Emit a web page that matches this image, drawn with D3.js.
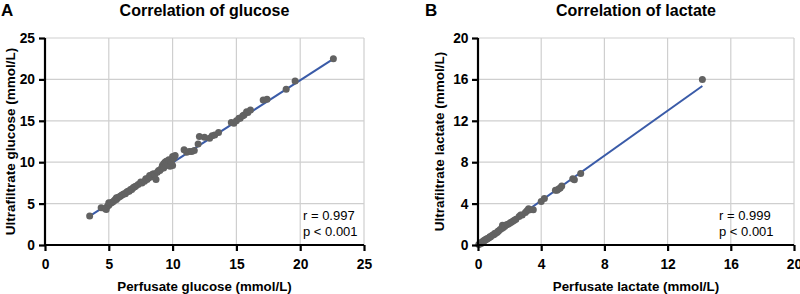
<!DOCTYPE html>
<html><head><meta charset="utf-8">
<script src="https://cdn.jsdelivr.net/npm/d3@7"></script>
<style>body{margin:0;background:#fff}svg{display:block;font-family:"Liberation Sans",Arial,sans-serif}</style>
</head><body><svg id="c" width="800" height="294"></svg>
<script>
// Panel A: glucose (perfusate x, ultrafiltrate y), mmol/L
const glucoseX = [3.5,4.4,4.7,4.8,4.9,5.0,5.0,5.1,5.2,5.3,5.4,5.5,5.6,5.6,5.7,5.8,5.9,6.0,6.1,6.2,6.3,6.4,6.5,6.6,6.7,6.8,6.9,7.0,7.1,7.3,7.5,7.6,7.8,7.9,8.0,8.1,8.2,8.3,8.4,8.5,8.6,8.7,8.8,8.9,9.0,9.1,9.2,9.3,9.3,9.4,9.5,9.5,9.6,9.7,9.8,9.9,10.0,10.0,10.1,10.2,10.9,11.1,11.3,11.5,11.7,12.0,12.1,12.5,12.9,13.1,13.3,13.6,14.6,14.8,15.0,15.2,15.3,15.5,15.6,15.8,15.9,16.1,17.1,17.4,18.9,19.6,22.6];
const glucoseY = [3.5,4.5,4.4,4.3,4.7,4.8,5.1,5.0,5.1,5.2,5.3,5.5,5.5,5.7,5.7,5.8,5.9,6.0,6.1,6.2,6.2,6.4,6.5,6.5,6.7,6.7,6.9,7.0,7.1,7.3,7.6,7.5,7.7,8.0,7.9,8.1,8.4,8.2,8.5,8.6,8.5,7.9,8.8,9.0,9.0,9.2,9.6,9.8,9.3,10.0,10.1,9.6,9.9,10.3,9.5,10.0,10.7,9.6,10.5,10.8,11.5,11.2,11.3,11.3,11.4,12.2,13.1,13.0,12.9,13.2,13.3,13.6,14.8,14.7,15.0,15.3,15.3,15.6,15.7,16.1,16.0,16.3,17.5,17.6,18.8,19.8,22.5];
const glucoseFit = [0.0, 0.995];      // intercept, slope
const glucoseFitRange = [3.5, 22.6];
const glucoseTicks = [0,5,10,15,20,25];
const glucoseStats = ["r = 0.997","p < 0.001"];

// Panel B: lactate
const lactateX = [0.05,0.1,0.15,0.2,0.25,0.3,0.35,0.4,0.45,0.5,0.55,0.6,0.7,0.75,0.8,0.9,1.0,1.05,1.1,1.2,1.25,1.3,1.4,1.5,1.55,1.6,1.7,1.8,1.9,2.0,2.1,2.2,2.3,2.4,2.6,2.7,2.8,3.0,3.1,3.2,3.3,3.5,4.0,4.2,4.9,5.0,5.1,5.2,5.3,6.0,6.1,6.5,14.2];
const lactateY = [0.05,0.1,0.2,0.15,0.3,0.3,0.4,0.4,0.5,0.5,0.6,0.6,0.7,0.8,0.8,0.95,1.0,1.1,1.1,1.2,1.3,1.35,1.5,1.6,1.9,1.7,1.8,1.95,2.0,2.1,2.2,2.3,2.4,2.5,2.75,2.9,2.9,3.15,3.3,3.5,3.4,3.4,4.2,4.5,5.3,5.3,5.4,5.5,5.7,6.4,6.3,6.9,16.0];
const lactateFit = [-0.05, 1.085];
const lactateFitRange = [0.0, 14.2];
const lactateTicks = [0,4,8,12,16,20];
const lactateStats = ["r = 0.999","p < 0.001"];

const svg = d3.select("#c");

function panel(o){
  const g = svg.append("g");
  const x = d3.scaleLinear().domain([0,o.max]).range([o.x0,o.x1]);
  const y = d3.scaleLinear().domain([0,o.max]).range([245,38]);
  // grid
  g.append("g").selectAll("line").data(o.ticks.slice(1)).join("line")
    .attr("x1",d=>x(d)).attr("x2",d=>x(d)).attr("y1",y(0)).attr("y2",y(o.max))
    .attr("stroke","#cfcfcf").attr("stroke-width",1.2);
  g.append("g").selectAll("line").data(o.ticks.slice(1)).join("line")
    .attr("y1",d=>y(d)).attr("y2",d=>y(d)).attr("x1",x(0)).attr("x2",x(o.max))
    .attr("stroke","#cfcfcf").attr("stroke-width",1.2);
  // fit line
  const [b,m] = o.fit;
  g.append("line")
    .attr("x1",x(o.range[0])).attr("y1",y(b+m*o.range[0]))
    .attr("x2",x(o.range[1])).attr("y2",y(b+m*o.range[1]))
    .attr("stroke","#3a5ba8").attr("stroke-width",2);
  // points
  g.append("g").selectAll("circle").data(o.xs.map((v,i)=>[v,o.ys[i]])).join("circle")
    .attr("cx",d=>x(d[0])).attr("cy",d=>y(d[1])).attr("r",3.5).attr("fill","#626262");
  // axes
  const xa = g.append("g").attr("transform",`translate(0,${y(0)})`)
    .call(d3.axisBottom(x).tickValues(o.ticks).tickSize(6).tickPadding(8.5));
  const ya = g.append("g").attr("transform",`translate(${x(0)},0)`)
    .call(d3.axisLeft(y).tickValues(o.ticks).tickSize(6).tickPadding(o.ypad));
  [xa,ya].forEach(a=>{
    a.select(".domain").attr("stroke","#000").attr("stroke-width",2.2);
    a.selectAll(".tick line").attr("stroke","#000").attr("stroke-width",2.2);
    a.selectAll(".tick text").attr("fill","#000").attr("font-size",13.8).attr("font-weight","bold")
      .attr("font-family","'Liberation Sans',Arial,sans-serif");
  });
  xa.select(".domain").attr("d",`M${x(0)},0H${x(o.max)}`);
  ya.select(".domain").attr("d",`M0,${y(0)}V${y(o.max)}`);
  // labels
  g.append("text").attr("x",o.lx).attr("y",15.5).text(o.letter)
    .attr("font-size",17).attr("font-weight","bold");
  g.append("text").attr("x",(o.x0+o.x1)/2).attr("y",15.5).attr("text-anchor","middle")
    .text(o.title).attr("font-size",16).attr("font-weight","bold");
  g.append("text").attr("x",(o.x0+o.x1)/2).attr("y",290.5).attr("text-anchor","middle")
    .text(o.xlabel).attr("font-size",13.3).attr("font-weight","bold");
  g.append("text").attr("transform",`translate(${o.ylx},${(y(0)+y(o.max))/2}) rotate(-90)`)
    .attr("text-anchor","middle").text(o.ylabel).attr("font-size",13.5).attr("font-weight","bold");
  g.append("g").selectAll("text").data(o.stats).join("text")
    .attr("x",o.sx).attr("y",(d,i)=>220+i*15.5).text(d=>d).attr("font-size",13);
}

panel({xs:glucoseX,ys:glucoseY,fit:glucoseFit,range:glucoseFitRange,ticks:glucoseTicks,max:25,
  x0:45,x1:364,lx:1,letter:"A",title:"Correlation of glucose",ypad:4,
  xlabel:"Perfusate glucose (mmol/L)",ylabel:"Ultrafiltrate glucose (mmol/L)",ylx:15,sx:303,stats:glucoseStats});
panel({xs:lactateX,ys:lactateY,fit:lactateFit,range:lactateFitRange,ticks:lactateTicks,max:20,
  x0:478,x1:794,lx:425,letter:"B",title:"Correlation of lactate",ypad:3.5,
  xlabel:"Perfusate lactate (mmol/L)",ylabel:"Ultrafiltrate lactate (mmol/L)",ylx:443.5,sx:719,stats:lactateStats});
</script></body></html>
